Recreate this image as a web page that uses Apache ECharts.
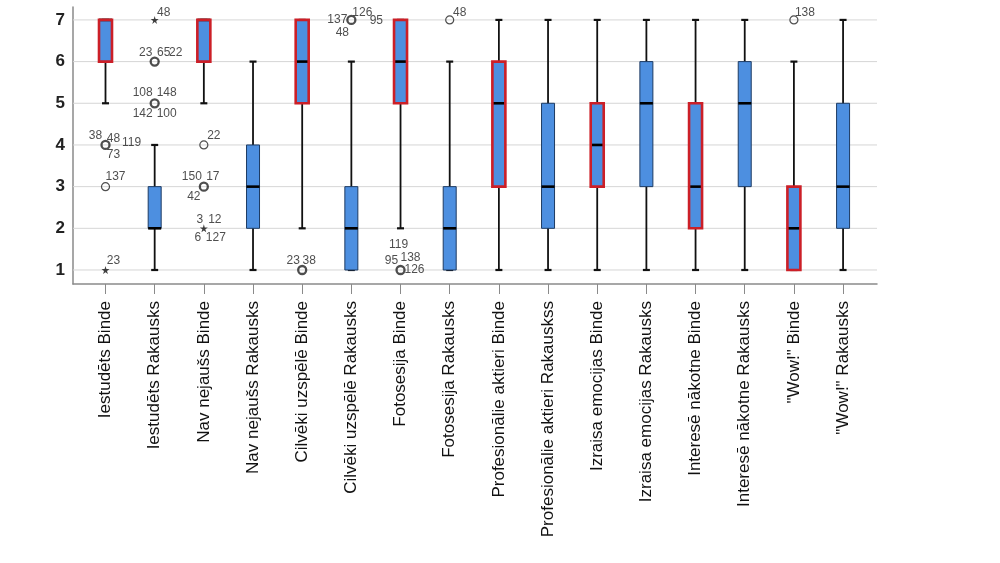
<!DOCTYPE html>
<html>
<head>
<meta charset="utf-8">
<script src="https://cdn.jsdelivr.net/npm/echarts@6/dist/echarts.min.js"></script>
<style>
html,body{margin:0;padding:0;background:#fff;}
#chart{width:1000px;height:563px;}
</style>
</head>
<body>
<div id="chart"></div>
<script>
// ---- data ----
const categories = ['Iestudēts Binde','Iestudēts Rakausks','Nav nejaušs Binde','Nav nejaušs Rakausks',
  'Cilvēki uzspēlē Binde','Cilvēki uzspēlē Rakausks','Fotosesija Binde','Fotosesija Rakausks',
  'Profesionālie aktieri Binde','Profesionālie aktieri Rakauskss','Izraisa emocijas Binde','Izraisa emocijas Rakausks',
  'Interesē nākotne Binde','Interesē nākotne Rakausks','"Wow!" Binde','"Wow!" Rakausks'];
const whiskerLow  = [5,1,5,1,2,1,2,1,1,1,1,1,1,1,1,1];
const q1          = [6,2,6,2,5,1,5,1,3,2,3,3,2,3,1,2];
const median      = [7,2,7,3,6,2,6,2,5,3,4,5,3,5,2,3];
const q3          = [7,3,7,4,7,3,7,3,6,5,5,6,5,6,3,5];
const whiskerHigh = [7,4,7,6,7,6,7,6,7,7,7,7,7,7,6,7];
const highlighted = [1,0,1,0,1,0,1,0,1,0,1,0,1,0,1,0];
const yTicks = [1,2,3,4,5,6,7];

// outliers: category index, value, marker kind, case ids
const outlierCat  = [0,0,0,1,1,1,2,2,2,4,5,6,7,14];
const outlierVal  = [4,3,1,5,6,7,4,3,2,1,7,1,7,7];
const outlierKind = ['o','o','*','o','o','*','o','o','*','o','o','o','o','o'];
const outlierIds  = [['38','48','119','73'],['137'],['23'],['108','148','142','100'],['23','65','22'],['48'],
  ['22'],['150','17','42'],['3','12','6','127'],['23','38'],['137','126','95','48'],['119','95','138','126'],['48'],['138']];

// ---- layout (label offsets in px, not data) ----
const idOffsets = [
  [[-10,-9],[8,-6],[26,-2],[8,10]], [[10,-10]], [[8,-9]],
  [[-12,-11],[12,-11],[-12,10],[12,10]], [[-9,-9],[9,-9],[21,-9]], [[9,-7]],
  [[10,-9]], [[-12,-10],[9,-10],[-10,10]], [[-4,-9],[11,-9],[-6,9],[12,9]],
  [[-9,-9],[7,-9]], [[-14,0],[11,-7],[25,1],[-9,13]], [[-2,-25],[-9,-9],[10,-12],[14,0]],
  [[10,-7]], [[11,-7]]
];

const FONT = '"Liberation Sans", Arial, sans-serif';
const X_MIN = -0.661, X_MAX = 15.69;
const boxData = categories.map((c, i) => [i, whiskerLow[i], q1[i], median[i], q3[i], whiskerHigh[i], highlighted[i]]);

const markData = [];
const labelData = [];
outlierCat.forEach((c, k) => {
  const multi = outlierIds[k].length > 1;
  const isStar = outlierKind[k] === '*';
  markData.push({
    value: [c, outlierVal[k]],
    symbol: isStar ? 'path://M50,0 L61,35 L98,35 L68,57 L79,91 L50,70 L21,91 L32,57 L2,35 L39,35 Z' : 'circle',
    symbolSize: 8,
    itemStyle: isStar ? {color: '#111', borderWidth: 0} : {color: 'rgba(255,255,255,0)', borderColor: '#222', borderWidth: multi ? 2.3 : 1.2}
  });
  outlierIds[k].forEach((id, j) => {
    labelData.push({value: [c, outlierVal[k]], name: id, label: {offset: idOffsets[k][j]}});
  });
});

const chart = echarts.init(document.getElementById('chart'), null, {renderer: 'canvas'});
chart.setOption({
  animation: false,
  backgroundColor: '#fff',
  grid: {left: 73, right: 123, top: 7, bottom: 279, containLabel: false},
  xAxis: {
    type: 'value', min: X_MIN, max: X_MAX,
    splitLine: {show: false},
    axisLine: {show: true, onZero: false, lineStyle: {color: '#8a8a8a', width: 1.5}},
    axisTick: {show: true, customValues: categories.map((c, i) => i), length: 10, lineStyle: {color: '#8a8a8a', width: 1}},
    axisLabel: {
      show: true, customValues: categories.map((c, i) => i), rotate: 90, margin: 17,
      formatter: v => categories[Math.round(v)] || '',
      fontFamily: FONT, fontSize: 17, color: '#111'
    }
  },
  yAxis: {
    type: 'value', min: 0.664, max: 7.31,
    splitLine: {show: false},
    axisLine: {show: true, onZero: false, lineStyle: {color: '#8a8a8a', width: 1.5}},
    axisTick: {show: false},
    axisLabel: {show: true, customValues: yTicks, margin: 8, fontFamily: FONT, fontSize: 17, fontWeight: 'bold', color: '#222'}
  },
  series: [
    {
      type: 'custom', z: 1, silent: true,
      data: yTicks.map(v => [v]),
      encode: {y: 0},
      renderItem: function (params, api) {
        const v = api.value(0);
        const a = api.coord([X_MIN, v]);
        const b = api.coord([X_MAX, v]);
        return {type: 'line', shape: {x1: a[0], y1: a[1], x2: b[0], y2: b[1]}, style: {stroke: '#d6d6d6', lineWidth: 1}};
      }
    },
    {
      type: 'custom', z: 3,
      data: boxData,
      encode: {x: 0, y: [1,2,3,4,5]},
      renderItem: function (params, api) {
        const i = api.value(0);
        const lo = api.coord([i, api.value(1)]);
        const b1 = api.coord([i, api.value(2)]);
        const md = api.coord([i, api.value(3)]);
        const b3 = api.coord([i, api.value(4)]);
        const hi = api.coord([i, api.value(5)]);
        const hl = api.value(6) === 1;
        const x = lo[0];
        const hw = 6.5, cw = 3.5;
        const children = [
          {type: 'line', shape: {x1: x, y1: hi[1], x2: x, y2: lo[1]}, style: {stroke: '#111', lineWidth: 1.8}},
          {type: 'line', shape: {x1: x - cw, y1: hi[1], x2: x + cw, y2: hi[1]}, style: {stroke: '#111', lineWidth: 2.2}},
          {type: 'line', shape: {x1: x - cw, y1: lo[1], x2: x + cw, y2: lo[1]}, style: {stroke: '#111', lineWidth: 2.2}},
          {type: 'rect', shape: {x: x - hw, y: b3[1], width: hw * 2, height: b1[1] - b3[1]},
            style: {fill: '#4d8fe0', stroke: hl ? null : '#1d3b63', lineWidth: 1}},
          {type: 'line', shape: {x1: x - hw, y1: md[1], x2: x + hw, y2: md[1]}, style: {stroke: '#000', lineWidth: 2.6}}
        ];
        if (hl) {
          children.push({type: 'rect', shape: {x: x - hw, y: b3[1], width: hw * 2, height: b1[1] - b3[1]},
            style: {fill: null, stroke: '#cc1f27', lineWidth: 2.6}});
        }
        return {type: 'group', children: children};
      }
    },
    {
      type: 'scatter', z: 4, data: markData, silent: true
    },
    {
      type: 'scatter', z: 5, data: labelData, silent: true,
      symbolSize: 1, itemStyle: {color: 'rgba(0,0,0,0)'},
      label: {show: true, position: 'inside', formatter: '{b}', fontFamily: FONT, fontSize: 12, color: '#222'}
    }
  ]
});
</script>
</body>
</html>
